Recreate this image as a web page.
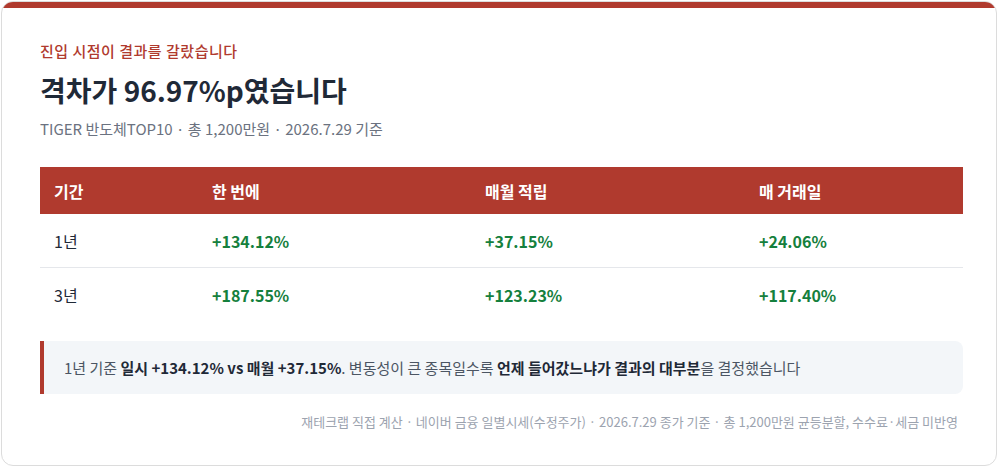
<!DOCTYPE html>
<html>
<head>
<meta charset="utf-8">
<script src="https://cdn.jsdelivr.net/npm/chart.js@4"></script>
<style>
  html, body { margin: 0; padding: 0; background: #fff; }
  body { width: 1000px; height: 469px; font-family: "Noto Sans CJK KR", "Noto Sans", sans-serif; }
  .card { position: absolute; left: 1px; top: 1px; width: 996px; height: 465px; border: 1px solid #dcdcdc; border-radius: 12px; overflow: hidden; box-sizing: border-box; }
  .bar { height: 6px; background: #b03a2e; }
  .kicker { position: absolute; left: 38px; top: 38px; color: #b03a2e; font-size: 15px; font-weight: 500; letter-spacing: 0.5px; }
  .title { position: absolute; left: 38px; top: 68px; color: #1f2937; font-size: 28px; font-weight: 700; }
  .sub { position: absolute; left: 38px; top: 116px; color: #6b7280; font-size: 15px; }
  table { position: absolute; left: 38px; top: 165px; width: 923px; border-collapse: collapse; font-size: 16px; }
  th { background: #b03a2e; color: #fff; text-align: left; font-weight: 700; height: 47px; padding: 0 0 0 14px; }
  td { height: 53px; padding: 0 0 0 14px; color: #1f2937; border-bottom: 1px solid #e5e7eb; }
  tr:last-child td { border-bottom: none; }
  td.v { color: #15803d; font-weight: 700; }
  .note { position: absolute; left: 38px; top: 339px; width: 923px; height: 53px; background: #f3f6f9; border-left: 4px solid #b03a2e; border-radius: 0 8px 8px 0; box-sizing: border-box; padding-left: 20px; line-height: 53px; font-size: 15px; color: #4b5563; }
  .note b { color: #1f2937; }
  .foot { position: absolute; right: 38px; top: 410px; color: #9ca3af; font-size: 13px; }
</style>
</head>
<body>
<div class="card">
  <div class="bar"></div>
  <div class="kicker">진입 시점이 결과를 갈랐습니다</div>
  <div class="title">격차가 96.97%p였습니다</div>
  <div class="sub">TIGER 반도체TOP10 · 총 1,200만원 · 2026.7.29 기준</div>
  <table id="tbl"></table>
  <div class="note">1년 기준 <b>일시 +134.12% vs 매월 +37.15%</b>. 변동성이 큰 종목일수록 <b>언제 들어갔느냐가 결과의 대부분</b>을 결정했습니다</div>
  <div class="foot">재테크랩 직접 계산 · 네이버 금융 일별시세(수정주가) · 2026.7.29 종가 기준 · 총 1,200만원 균등분할, 수수료·세금 미반영</div>
</div>
<script>
// table data
var headers = ['기간', '한 번에', '매월 적립', '매 거래일'];
var periods = ['1년', '3년'];
var lumpSum = ['+134.12%', '+187.55%'];
var monthly = ['+37.15%', '+123.23%'];
var daily = ['+24.06%', '+117.40%'];

var widths = ['144px', '259px', '260px', 'auto'];
var tbl = document.getElementById('tbl');
var html = '<tr>';
for (var i = 0; i < headers.length; i++) {
  html += '<th style="width:' + widths[i] + '">' + headers[i] + '</th>';
}
html += '</tr>';
for (var r = 0; r < periods.length; r++) {
  html += '<tr><td>' + periods[r] + '</td><td class="v">' + lumpSum[r] + '</td><td class="v">' + monthly[r] + '</td><td class="v">' + daily[r] + '</td></tr>';
}
tbl.innerHTML = html;
</script>
</body>
</html>
